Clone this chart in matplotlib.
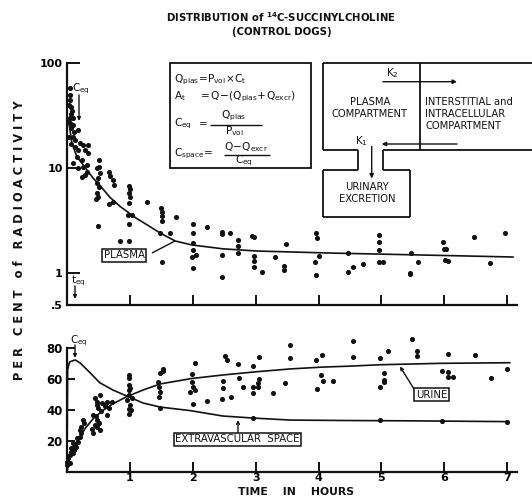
import matplotlib
matplotlib.use('Agg')
import matplotlib.pyplot as plt
from matplotlib.patches import Rectangle, FancyArrowPatch
from matplotlib.lines import Line2D

plt.rcParams['font.family'] = ['DejaVu Sans']
plt.rcParams['mathtext.fontset'] = 'dejavusans'

# ---------------- data ----------------
hours = [1, 2, 3, 4, 5, 6, 7]
hour_labels = ['1', '2', '3', '4', '5', '6', '7']
top_yticks = [100, 10, 1, 0.5]
top_ylabels = ['100', '10', '1', '.5']
bot_yticks = [20, 40, 60, 80]
bot_ylabels = ['20', '40', '60', '80']

plasma_curve_t = [0.02, 0.08, 0.16, 0.27, 0.41, 0.52, 0.68, 0.85, 1.0, 1.1, 1.25,
                  1.48, 1.72, 1.99, 2.48, 3.02, 4.18, 5.5, 7.09]
plasma_curve_v = [30, 17, 12.8, 10.5, 8.1, 6.9, 5.3, 4.3, 3.7, 3.35, 2.95,
                  2.42, 2.03, 1.86, 1.71, 1.63, 1.56, 1.5, 1.43]

plasma_t = [0.04, 0.05, 0.06, 0.06, 0.09, 0.10, 0.07, 0.11, 0.17, 0.09, 0.13, 0.21,
            0.13, 0.25, 0.33, 0.17, 0.29, 0.33, 0.16, 0.24, 0.10, 0.25, 0.32, 0.17,
            0.24, 0.29, 0.32, 0.03, 0.04, 0.05, 0.03, 0.06, 0.05, 0.08,
            0.51, 0.51, 0.48, 0.52, 0.49, 0.48, 0.51, 0.48, 0.46, 0.49, 0.49,
            0.67, 0.68, 0.73, 0.75, 0.67, 0.73,
            0.99, 1.0, 0.99, 1.0, 0.99, 0.97, 1.03, 0.99, 0.99,
            1.27, 0.84,
            1.49, 1.51, 1.51, 1.51, 1.48, 1.51, 1.73, 1.64,
            2.0, 2.23, 2.0, 2.05, 2.0, 2.0, 1.99, 2.0,
            2.46, 2.46, 2.59, 2.47, 2.47,
            2.72, 2.72, 2.72,
            2.94, 2.97, 2.97, 2.97, 2.97, 3.1,
            3.31, 3.48, 3.45, 3.45,
            3.96, 3.97, 4.0, 3.94, 3.96,
            4.47, 4.55, 4.47, 4.71,
            4.96, 4.96, 4.96, 4.96, 5.02,
            5.47, 5.45, 5.45, 5.58,
            5.98, 5.99, 6.02, 6.01, 6.06,
            6.47, 6.72, 6.96]
plasma_v = [58, 44, 38, 33, 30, 26, 24, 22, 23, 20, 18.5, 17.4,
            15.9, 16.6, 16.6, 14.9, 14.9, 13.9, 12.8, 12.0, 11.2, 10.3, 10.7, 10.0,
            8.2, 8.6, 9.2, 40, 30, 27, 20, 17, 50, 35,
            12.0, 10.3, 10.0, 9.0, 8.1, 7.2, 6.6, 5.8, 5.1, 5.3, 2.8,
            9.2, 8.4, 7.7, 6.9, 4.6, 4.8,
            6.8, 6.3, 5.8, 5.3, 4.7, 3.6, 3.6, 2.95, 2.03,
            4.8, 2.03,
            4.2, 3.8, 3.5, 3.15, 2.4, 1.28, 3.4, 2.42,
            2.95, 2.76, 2.42, 1.5, 1.94, 1.67, 1.43, 1.13,
            2.48, 2.37, 2.42, 1.5, 0.92,
            2.08, 1.82, 1.56,
            2.27, 2.22, 1.46, 1.31, 1.15, 1.03,
            1.43, 1.90, 1.18, 1.08,
            2.42, 2.17, 1.46, 1.28, 0.97,
            1.56, 1.15, 1.03, 1.23,
            2.32, 1.99, 1.67, 1.28, 1.28,
            1.56, 1.01, 0.98, 1.28,
            1.99, 1.71, 1.71, 1.34, 1.31,
            2.22, 1.26, 2.42]

urine_curve_t = [0, 0.05, 0.1, 0.21, 0.29, 0.42, 0.58, 0.73, 0.95, 1.21, 1.48,
                 1.98, 2.48, 3.02, 3.55, 4.07, 4.5, 4.98, 5.93, 7.04]
urine_curve_v = [0, 11, 16.3, 22.8, 28.2, 34.6, 40, 44, 48.6, 52.9, 56.8,
                 60.3, 62.6, 64.7, 66.5, 67.7, 68.3, 69.2, 70.1, 70.5]

extra_curve_t = [0, 0.01, 0.04, 0.13, 0.21, 0.37, 0.52, 0.73, 0.95, 1.21, 1.48,
                 1.96, 2.48, 2.96, 3.55, 4.5, 5.5, 7.0]
extra_curve_v = [0, 66, 71, 72.3, 70.3, 63.9, 57.6, 52.9, 49, 44.5, 41.9,
                 39.6, 36.1, 34.8, 33.5, 33.2, 33.0, 32.5]

urine_t = [0.0, 0.02, 0.04, 0.06, 0.09, 0.07, 0.11, 0.13, 0.15, 0.10, 0.18, 0.16,
           0.21, 0.22, 0.2, 0.23, 0.26, 0.27, 0.05, 0.0,
           0.45, 0.47, 0.52, 0.48, 0.55, 0.5, 0.54, 0.46, 0.48, 0.51, 0.47, 0.52,
           0.63, 0.71, 0.6, 0.66, 0.39, 0.42, 0.45, 0.42, 0.63,
           0.98, 0.98, 0.98, 1.0, 0.98, 0.98, 1.03, 0.95,
           1.48, 1.52, 1.53, 1.45, 1.47, 1.48, 1.47,
           2.03, 1.98, 2.0, 2.03, 1.96, 1.99,
           2.51, 2.54, 2.72, 2.48, 2.48, 2.6, 2.74, 2.8,
           2.96, 3.06, 3.05, 3.04, 3.04, 2.96, 2.96, 3.28, 3.47, 3.55, 3.55,
           3.96, 4.05, 4.04, 4.07, 3.97, 4.23,
           4.55, 4.55, 4.98, 5.11, 5.04, 5.04, 5.04, 4.98,
           5.48, 5.57, 5.57, 6.05, 6.49, 5.97, 6.05, 6.05, 6.14, 6.74, 6.99]
urine_v = [6.6, 8.8, 11, 13.1, 12, 15.3, 14.2, 17.4, 16.3, 18.5, 19.6, 21.7,
           22.8, 25, 27.1, 28.8, 33.5, 31.4, 5.6, 4.5,
           47.5, 45.4, 49.7, 43.2, 44.3, 41.1, 39.6, 36.1, 33.5, 31.4, 29.2, 27.1,
           45.4, 45.4, 42.6, 41.1, 27.5, 25, 30.3, 36.8, 36.8,
           62.6, 60.5, 56.1, 54, 52.9, 49.7, 47.5, 46.5,
           63.7, 65.4, 66.2, 58.3, 54.6, 51.8, 48.6,
           70.5, 58.3, 55.0, 52.9, 51.8, 63.2,
           75, 72.3, 69.5, 58.9, 54, 48.6, 60.5, 54.6,
           68.6, 74.4, 59.8, 57.2, 55, 55, 51, 50.8, 57.2, 81.9, 73.3,
           72.3, 75.5, 62.6, 58.9, 53.5, 58.9,
           84.5, 74.4, 73.7, 78, 63.7, 58, 59.5, 55,
           85.8, 78.3, 75, 76.1, 75.5, 65.4, 64.7, 61.1, 61.1, 60.5, 66.2]

extra_t = [1.0, 0.98, 1.02, 0.98, 1.48, 2.0, 2.22, 2.47, 2.96, 4.98, 5.97, 6.99]
extra_v = [43.2, 40.4, 40.0, 37.4, 41.1, 43.9, 46.0, 47.1, 34.8, 33.5, 33.1, 32.5]

# ---------------- layout helpers (pixel geometry of the reference) ----------------
W, H = 532, 501
fig = plt.figure(figsize=(W / 100, H / 100), dpi=100)


def rect(x0, y0, x1, y1):
    return [x0 / W, 1 - y1 / H, (x1 - x0) / W, (y1 - y0) / H]


INK = '#111111'
FS = 8

ax1 = fig.add_axes(rect(67, 63, 516.7, 305))
ax2 = fig.add_axes(rect(67, 348, 516.7, 472))

for ax in (ax1, ax2):
    for s in ('top', 'right'):
        ax.spines[s].set_visible(False)
    for s in ('left', 'bottom'):
        ax.spines[s].set_linewidth(1.6)
        ax.spines[s].set_color(INK)
    ax.set_xlim(0, 7.15)
    ax.set_xticks(hours)
    ax.tick_params(axis='x', direction='in', length=7, width=1.4, color=INK)
    ax.tick_params(axis='y', direction='in', width=1.4, color=INK, pad=3)
    ax.minorticks_off()
    ax.patch.set_alpha(0)

# top panel
ax1.set_yscale('log')
ax1.set_ylim(0.5, 100)
ax1.set_yticks(top_yticks)
ax1.set_yticklabels(top_ylabels, fontsize=FS, fontweight='bold')
ax1.minorticks_off()
ax1.tick_params(axis='y', length=9)
ax1.set_xticklabels([])
ax1.plot(plasma_curve_t, plasma_curve_v, color=INK, lw=1.2, clip_on=False)
ax1.scatter(plasma_t, plasma_v, s=7, color=INK, clip_on=False, zorder=3)

# bottom panel
ax2.set_ylim(0, 80)
ax2.set_yticks(bot_yticks)
ax2.set_yticklabels(bot_ylabels, fontsize=FS + 0.5, fontweight='bold')
ax2.tick_params(axis='y', length=6)
ax2.set_xticklabels(hour_labels, fontsize=FS, fontweight='bold')
ax2.tick_params(axis='x', pad=1)
ax2.plot(urine_curve_t, urine_curve_v, color=INK, lw=1.2, clip_on=False)
ax2.plot(extra_curve_t, extra_curve_v, color=INK, lw=1.2, clip_on=False)
ax2.scatter(urine_t, urine_v, s=7, color=INK, clip_on=False, zorder=3)
ax2.scatter(extra_t, extra_v, s=7, color=INK, clip_on=False, zorder=3)

# overlay in pixel coordinates for the drawn annotations
ov = fig.add_axes([0, 0, 1, 1])
ov.set_xlim(0, W)
ov.set_ylim(H, 0)
ov.axis('off')
ov.patch.set_alpha(0)


def seg(x0, y0, x1, y1, lw=1.2):
    ov.add_line(Line2D([x0, x1], [y0, y1], color=INK, lw=lw, solid_capstyle='butt'))


def arrow(x0, y0, x1, y1, lw=1.0, style='-|>', ms=6):
    ov.add_patch(FancyArrowPatch((x0, y0), (x1, y1), arrowstyle=style,
                                 mutation_scale=ms, color=INK, lw=lw,
                                 shrinkA=0, shrinkB=0))


# title
ov.text(281, 17, r'DISTRIBUTION of $^{\mathbf{14}}$C-SUCCINYLCHOLINE', ha='center',
        va='center', fontsize=7.3, fontweight='bold', color=INK)
ov.text(282, 32, '(CONTROL DOGS)', ha='center', va='center', fontsize=7.3,
        fontweight='bold', color=INK)

# axis titles
ov.text(20, 240, 'P E R   C E N T   o f   R A D I O A C T I V I T Y', rotation=90,
        ha='center', va='center', fontsize=8.3, fontweight='bold', color=INK)
ov.text(296, 492, 'TIME    IN    HOURS', ha='center', va='center', fontsize=7.8,
        fontweight='bold', color=INK)

# formula box
ov.add_patch(Rectangle((170, 63), 141, 105, fill=False, ec=INK, lw=1.3))
ffs = 7.6
ftxt = dict(va='center', fontsize=ffs, color=INK)
ov.text(174, 80, r'$\mathrm{Q_{plas}\!=\!P_{vol}\!\times\!C_t}$', ha='left', **ftxt)
ov.text(174, 97, r'$\mathrm{A_t\ \ \ \ =Q\!-\!(Q_{plas}\!+\!Q_{excr})}$', ha='left', **ftxt)
# C_eq = Q_plas / P_vol
ov.text(174, 124, r'$\mathrm{C_{eq}}$', ha='left', **ftxt)
ov.text(203, 124, '=', ha='center', **ftxt)
ov.text(234, 116, r'$\mathrm{Q_{plas}}$', ha='center', **ftxt)
seg(210, 124.5, 262, 124.5, 1.0)
ov.text(234, 131.5, r'$\mathrm{P_{vol}}$', ha='center', **ftxt)
# C_space = (Q - Q_excr) / C_eq
ov.text(174, 154, r'$\mathrm{C_{space}}$=', ha='left', **ftxt)
ov.text(246, 147, r'$\mathrm{Q\!-\!Q_{excr}}$', ha='center', **ftxt)
seg(224, 154.5, 270, 154.5, 1.0)
ov.text(244, 161, r'$\mathrm{C_{eq}}$', ha='center', **ftxt)

# compartment diagram
lw = 1.3
seg(322.7, 63.3, 532, 63.3, lw)          # top
seg(322.7, 63.3, 322.7, 150, lw)         # left
seg(322.7, 150, 358.3, 150, lw)          # bottom left
seg(383.3, 150, 532, 150, lw)            # bottom right
seg(358.3, 150, 358.3, 170, lw)          # neck
seg(383.3, 150, 383.3, 170, lw)
seg(420, 63.3, 420, 150, lw)             # divider
seg(322.7, 170, 358.3, 170, lw)          # urinary box
seg(383.3, 170, 410, 170, lw)
seg(322.7, 170, 322.7, 216.7, lw)
seg(410, 170, 410, 216.7, lw)
seg(322.7, 216.7, 410, 216.7, lw)
arrow(383, 81.7, 457, 81.7)
arrow(457, 144, 381.7, 144)
arrow(371.7, 146.5, 371.7, 178.5)
ov.text(392, 73, r'$\mathrm{K_2}$', ha='center', va='center', fontsize=7.5, color=INK)
ov.text(361, 141, r'$\mathrm{K_1}$', ha='center', va='center', fontsize=7.5, color=INK)
dfs = 7.2
ov.text(370, 101.5, 'PLASMA', ha='center', va='center', fontsize=dfs, color=INK)
ov.text(370, 113.5, 'COMPARTMENT', ha='center', va='center', fontsize=dfs, color=INK)
ov.text(425, 101.5, 'INTERSTITIAL and', ha='left', va='center', fontsize=dfs, color=INK)
ov.text(425, 113.5, 'INTRACELLULAR', ha='left', va='center', fontsize=dfs, color=INK)
ov.text(425, 126, 'COMPARTMENT', ha='left', va='center', fontsize=dfs, color=INK)
ov.text(367, 186.5, 'URINARY', ha='center', va='center', fontsize=dfs, color=INK)
ov.text(367, 199.5, 'EXCRETION', ha='center', va='center', fontsize=dfs, color=INK)

# plot annotations
lab = dict(fontsize=7.3, color=INK, ha='center', va='center')
box = dict(boxstyle='square,pad=0.15', fc='white', ec=INK, lw=1.1)
ov.text(72, 89, r'$\mathrm{C_{eq}}$', ha='left', va='center', fontsize=7.5, color=INK)
arrow(79, 95, 79, 121, ms=5)
ov.text(71, 281, r'$\mathrm{t_{eq}}$', ha='left', va='center', fontsize=7.5, color=INK)
arrow(75, 286, 75, 299, ms=5)
ov.text(124, 255.5, 'PLASMA', bbox=box, **lab)
seg(152, 253, 175, 241, 1.0)

ov.text(70, 341, r'$\mathrm{C_{eq}}$', ha='left', va='center', fontsize=7.5, color=INK)
arrow(75, 345, 75, 358, ms=5)
ov.text(237.5, 439.5, 'EXTRAVASCULAR  SPACE', bbox=box, **lab)
arrow(238, 434, 238, 420, ms=5, style='->')
ov.text(431.7, 394.7, 'URINE', bbox=box, **lab)
arrow(414, 389, 400, 366.5, ms=5, style='->')

fig.savefig('out.png', dpi=100)
